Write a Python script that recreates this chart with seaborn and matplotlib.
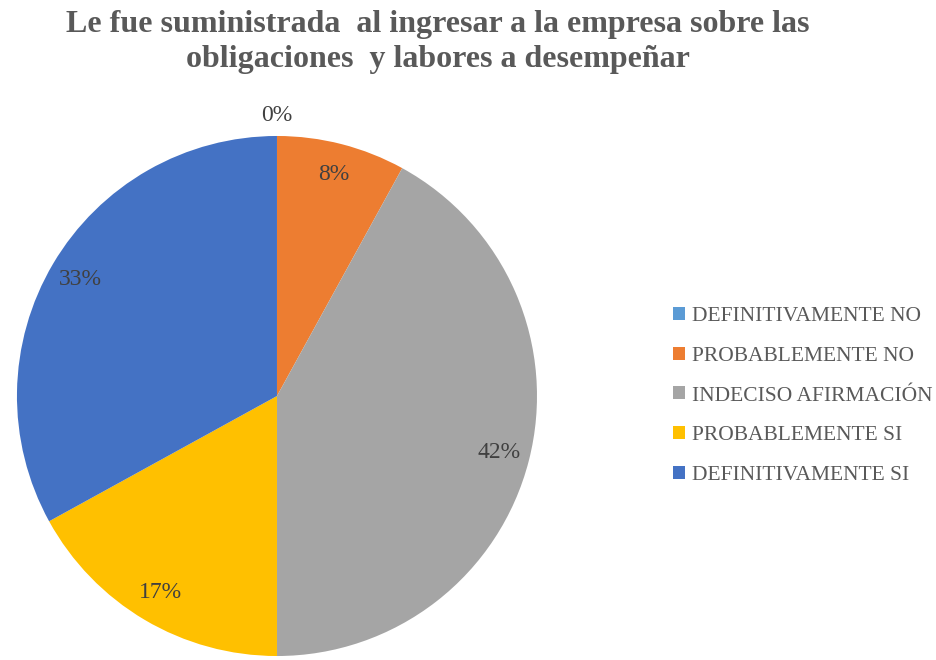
import matplotlib
matplotlib.use("Agg")
import matplotlib.pyplot as plt
import seaborn as sns

categories = [
    "DEFINITIVAMENTE NO",
    "PROBABLEMENTE NO",
    "INDECISO AFIRMACIÓN",
    "PROBABLEMENTE SI",
    "DEFINITIVAMENTE SI",
]
percentages = [0, 8, 42, 17, 33]
colors = ["#5B9BD5", "#ED7D31", "#A5A5A5", "#FFC000", "#4472C4"]

title = "Le fue suministrada  al ingresar a la empresa sobre las\nobligaciones  y labores a desempeñar"

sns.set_theme(style="white")
plt.rcParams["font.family"] = ["Liberation Serif", "DejaVu Serif"]

fig = plt.figure(figsize=(9.37, 6.6), dpi=100)
ax = fig.add_axes([0.0181, 0.006, 0.555, 0.788])

wedges, texts, autotexts = ax.pie(
    percentages,
    colors=sns.color_palette(colors),
    startangle=90,
    counterclock=False,
    autopct="%1.0f%%",
    pctdistance=0.88,
    wedgeprops={"linewidth": 0},
    textprops={"fontsize": 17, "color": "#404040"},
)
# the empty slice gets its label just outside the rim
for val, t in zip(percentages, autotexts):
    if val == 0:
        t.set_position((0, 1.08))
ax.set_xlim(-1, 1)
ax.set_ylim(-1, 1)
ax.set_aspect("equal")

fig.text(0.467, 0.985, title, ha="center", va="top", fontsize=23,
         fontweight="bold", color="#595959", linespacing=1.3)

ax.legend(
    wedges,
    categories,
    loc="center left",
    bbox_to_anchor=(1.225, 0.5),
    frameon=False,
    fontsize=15.5,
    labelcolor="#595959",
    handlelength=0.55,
    handleheight=0.55,
    handletextpad=0.3,
    labelspacing=0.95,
)

fig.savefig("out.png", dpi=100)
plt.close(fig)
